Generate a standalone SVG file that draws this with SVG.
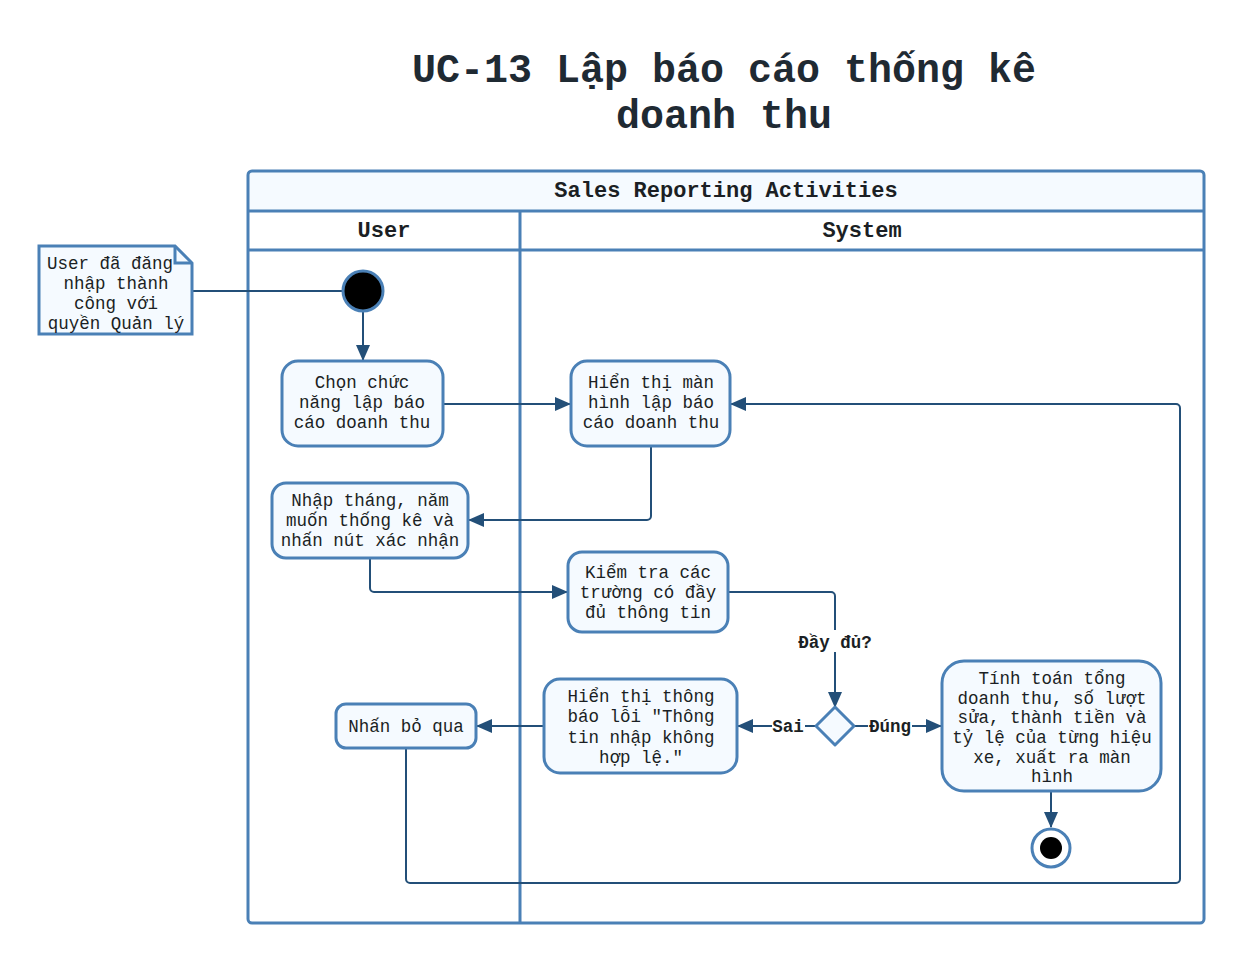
<svg xmlns="http://www.w3.org/2000/svg" width="1245" height="963" viewBox="0 0 1245 963">
<defs>
<style>
.t{font-family:"Liberation Mono","DejaVu Sans Mono",monospace;font-size:17.5px;fill:#1b1f24;text-anchor:middle}
.b{font-weight:bold}
.title{font-family:"Liberation Mono","DejaVu Sans Mono",monospace;font-size:40px;font-weight:bold;fill:#1f2a33;text-anchor:middle}
.hdr{font-family:"Liberation Mono","DejaVu Sans Mono",monospace;font-size:22px;font-weight:bold;fill:#1b1f24;text-anchor:middle}
.node{fill:#f5faff;stroke:#4a80b6;stroke-width:3}
.lane{fill:none;stroke:#4a80b6;stroke-width:3}
.c{fill:none;stroke:#234f78;stroke-width:2}
.lbl{font-family:"Liberation Mono","DejaVu Sans Mono",monospace;font-size:17.5px;font-weight:bold;fill:#1b1f24;text-anchor:middle}
</style>
<marker id="arr" markerUnits="userSpaceOnUse" markerWidth="16" markerHeight="14" refX="15" refY="7" orient="auto">
<path d="M0,0 L16,7 L0,14 Z" fill="#234f78"/>
</marker>
</defs>
<rect width="1245" height="963" fill="#ffffff"/>
<text class="title" x="724" y="82">UC-13 Lập báo cáo thống kê</text>
<text class="title" x="724" y="128">doanh thu</text>

<g id="pool">
<path d="M248,211 V175 a4,4 0 0 1 4,-4 H1200 a4,4 0 0 1 4,4 V211 Z" fill="#f5faff"/>
<rect x="248" y="171" width="956" height="752" rx="4" class="lane"/>
<line x1="248" y1="211" x2="1204" y2="211" class="lane"/>
<line x1="248" y1="250" x2="1204" y2="250" class="lane"/>
<line x1="520" y1="211" x2="520" y2="923" class="lane"/>
<text class="hdr" x="726" y="197">Sales Reporting Activities</text>
<text class="hdr" x="384" y="237">User</text>
<text class="hdr" x="862" y="237">System</text>
</g>

<g id="connectors">
<line x1="193" y1="291" x2="343" y2="291" class="c"/>
<path d="M363,311 V360" class="c" marker-end="url(#arr)"/>
<path d="M444,404 H570" class="c" marker-end="url(#arr)"/>
<path d="M651,447 V516 a4,4 0 0 1 -4,4 H469" class="c" marker-end="url(#arr)"/>
<path d="M370,559 V588 a4,4 0 0 0 4,4 H567" class="c" marker-end="url(#arr)"/>
<path d="M729,592 H831 a4,4 0 0 1 4,4 V707" class="c" marker-end="url(#arr)"/>
<path d="M816,726 H738" class="c" marker-end="url(#arr)"/>
<path d="M854,726 H941" class="c" marker-end="url(#arr)"/>
<path d="M543,726 H477" class="c" marker-end="url(#arr)"/>
<path d="M406,749 V879 a4,4 0 0 0 4,4 H1176 a4,4 0 0 0 4,-4 V408 a4,4 0 0 0 -4,-4 H731" class="c" marker-end="url(#arr)"/>
<path d="M1051,792 V827" class="c" marker-end="url(#arr)"/>
<rect x="794" y="630" width="82" height="22" fill="#ffffff"/>
<text class="lbl" x="835" y="648">Đầy đủ?</text>
<rect x="772" y="716" width="33" height="20" fill="#ffffff"/>
<text class="lbl" x="788" y="732">Sai</text>
<rect x="868" y="716" width="44" height="20" fill="#ffffff"/>
<text class="lbl" x="890" y="732">Đúng</text>
</g>

<g id="note">
<path d="M39,246 H175 L192,263 V334 H39 Z" class="node"/>
<path d="M175,246 V263 H192" fill="none" stroke="#4a80b6" stroke-width="3"/>
<text class="t" x="110" y="269">User đã đăng</text>
<text class="t" x="116" y="289">nhập thành</text>
<text class="t" x="116" y="309">công với</text>
<text class="t" x="116" y="329">quyền Quản lý</text>
</g>

<g id="start">
<circle cx="363" cy="291" r="20" fill="#000000" stroke="#4a80b6" stroke-width="3"/>
</g>

<g id="n-chon">
<rect x="282" y="361" width="161" height="85" rx="16" class="node"/>
<text class="t" x="362" y="388">Chọn chức</text>
<text class="t" x="362" y="408">năng lập báo</text>
<text class="t" x="362" y="428">cáo doanh thu</text>
</g>

<g id="n-hienthi">
<rect x="571" y="361" width="159" height="85" rx="16" class="node"/>
<text class="t" x="651" y="388">Hiển thị màn</text>
<text class="t" x="651" y="408">hình lập báo</text>
<text class="t" x="651" y="428">cáo doanh thu</text>
</g>

<g id="n-nhap">
<rect x="272" y="483" width="196" height="75" rx="14" class="node"/>
<text class="t" x="370" y="506">Nhập tháng, năm</text>
<text class="t" x="370" y="526">muốn thống kê và</text>
<text class="t" x="370" y="546">nhấn nút xác nhận</text>
</g>

<g id="n-kiemtra">
<rect x="568" y="552" width="160" height="80" rx="14" class="node"/>
<text class="t" x="648" y="578">Kiểm tra các</text>
<text class="t" x="648" y="598">trường có đầy</text>
<text class="t" x="648" y="618">đủ thông tin</text>
</g>

<g id="decision">
<path d="M835,707 L854,726 L835,745 L816,726 Z" class="node" stroke-linejoin="round"/>
</g>

<g id="n-loi">
<rect x="544" y="679" width="193" height="94" rx="16" class="node"/>
<text class="t" x="641" y="702">Hiển thị thông</text>
<text class="t" x="641" y="722">báo lỗi "Thông</text>
<text class="t" x="641" y="743">tin nhập không</text>
<text class="t" x="641" y="763">hợp lệ."</text>
</g>

<g id="n-boqua">
<rect x="336" y="704" width="140" height="44" rx="10" class="node"/>
<text class="t" x="406" y="732">Nhấn bỏ qua</text>
</g>

<g id="n-tinhtoan">
<rect x="942" y="661" width="219" height="130" rx="22" class="node"/>
<text class="t" x="1052" y="684">Tính toán tổng</text>
<text class="t" x="1052" y="704">doanh thu, số lượt</text>
<text class="t" x="1052" y="723">sửa, thành tiền và</text>
<text class="t" x="1052" y="743">tỷ lệ của từng hiệu</text>
<text class="t" x="1052" y="763">xe, xuất ra màn</text>
<text class="t" x="1052" y="782">hình</text>
</g>

<g id="end">
<circle cx="1051" cy="848" r="19" fill="#ffffff" stroke="#4a80b6" stroke-width="3"/>
<circle cx="1051" cy="848" r="11" fill="#000000"/>
</g>
</svg>
